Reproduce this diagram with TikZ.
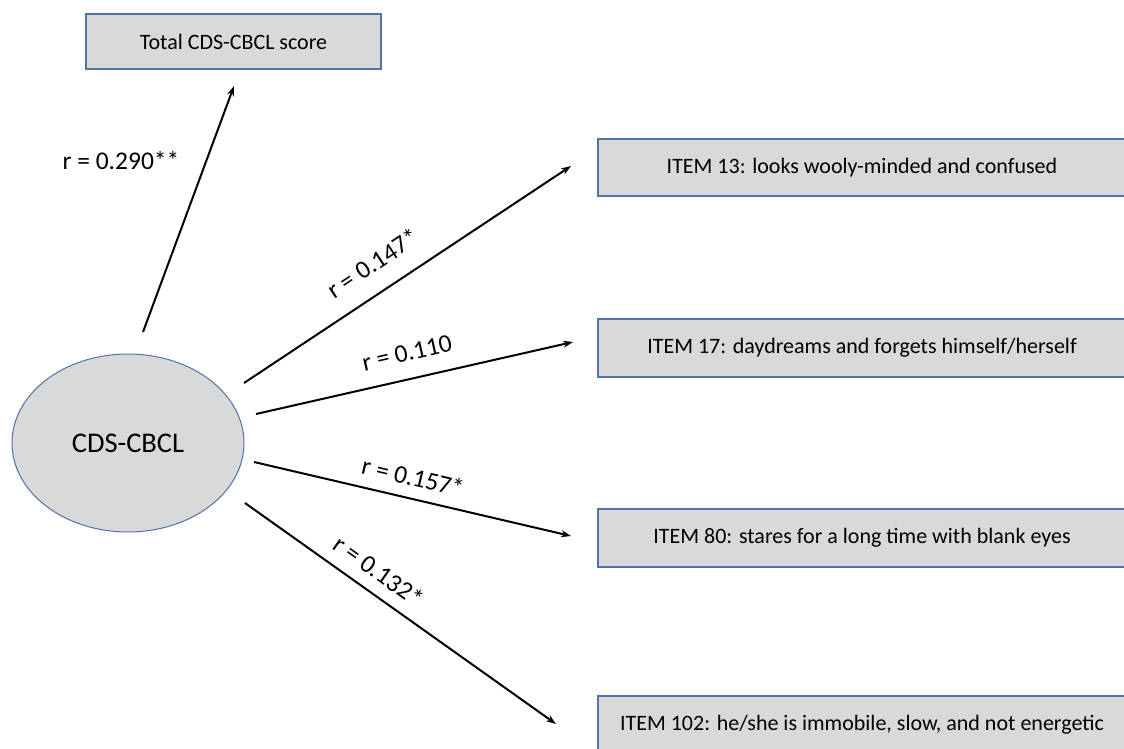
\documentclass[tikz,border=0pt]{standalone}
\usepackage{fontspec}
\setmainfont{Carlito}
\usetikzlibrary{arrows.meta,shapes.geometric}
\definecolor{boxfill}{HTML}{D9D9D9}
\definecolor{boxline}{HTML}{4F72A8}
\tikzset{
  itembox/.style={draw=boxline,line width=1.2pt,fill=boxfill,rectangle,inner sep=0pt,font=\fontsize{22}{26}\selectfont},
  ellnode/.style={draw=boxline,line width=1pt,fill=boxfill,ellipse,inner sep=0pt,minimum width=232pt,minimum height=178pt,font=\fontsize{28.5}{32}\selectfont},
  arr/.style={-{Stealth[length=10pt,width=7pt]},line width=2pt,black},
  rlabel/.style={font=\fontsize{25.5}{28}\selectfont,inner sep=0pt}
}
\begin{document}
\begin{tikzpicture}[x=1pt,y=-1pt]
\useasboundingbox (0,0) rectangle (1124,749);
\clip (0,0) rectangle (1124,749);
\fill[white] (0,0) rectangle (1124,749);
% nodes
\node[itembox,minimum width=295pt,minimum height=55pt] (tot) at (233.5,41.5) {Total CDS-CBCL score};
\node[ellnode] (cds) at (128,443) {CDS-CBCL};
\node[itembox,minimum width=528pt,minimum height=57pt] (i13) at (862,167.5) {ITEM 13: looks wooly-minded and confused};
\node[itembox,minimum width=528pt,minimum height=58pt] (i17) at (862,348) {ITEM 17: daydreams and forgets himself/herself};
\node[itembox,minimum width=528pt,minimum height=58pt] (i80) at (862,538) {ITEM 80: stares for a long time with blank eyes};
\node[itembox,minimum width=528pt,minimum height=58pt] (i102) at (862,725) {ITEM 102: he/she is immobile, slow, and not energetic};
% connector end points
\coordinate (s0) at (143,332);
\coordinate (e0) at (234,86);
\coordinate (s1) at (244,383);
\coordinate (e1) at (571,166);
\coordinate (s2) at (256,414);
\coordinate (e2) at (573,342);
\coordinate (s3) at (254,462);
\coordinate (e3) at (571,536);
\coordinate (s4) at (245,503);
\coordinate (e4) at (556,724);
\draw[arr] (s0) -- (e0);
\draw[arr] (s1) -- (e1);
\draw[arr] (s2) -- (e2);
\draw[arr] (s3) -- (e3);
\draw[arr] (s4) -- (e4);
% labels
\node[rlabel] (l0) at (121,161) {r = 0.290**};
\node[rlabel,rotate=33.5] (l1) at (373,263) {r = 0.147*};
\node[rlabel,rotate=12.7] (l2) at (407,353) {r = 0.110};
\node[rlabel,rotate=-13.3] (l3) at (413,477) {r = 0.157*};
\node[rlabel,rotate=-35.4] (l4) at (379,571) {r = 0.132*};
\end{tikzpicture}
\end{document}
